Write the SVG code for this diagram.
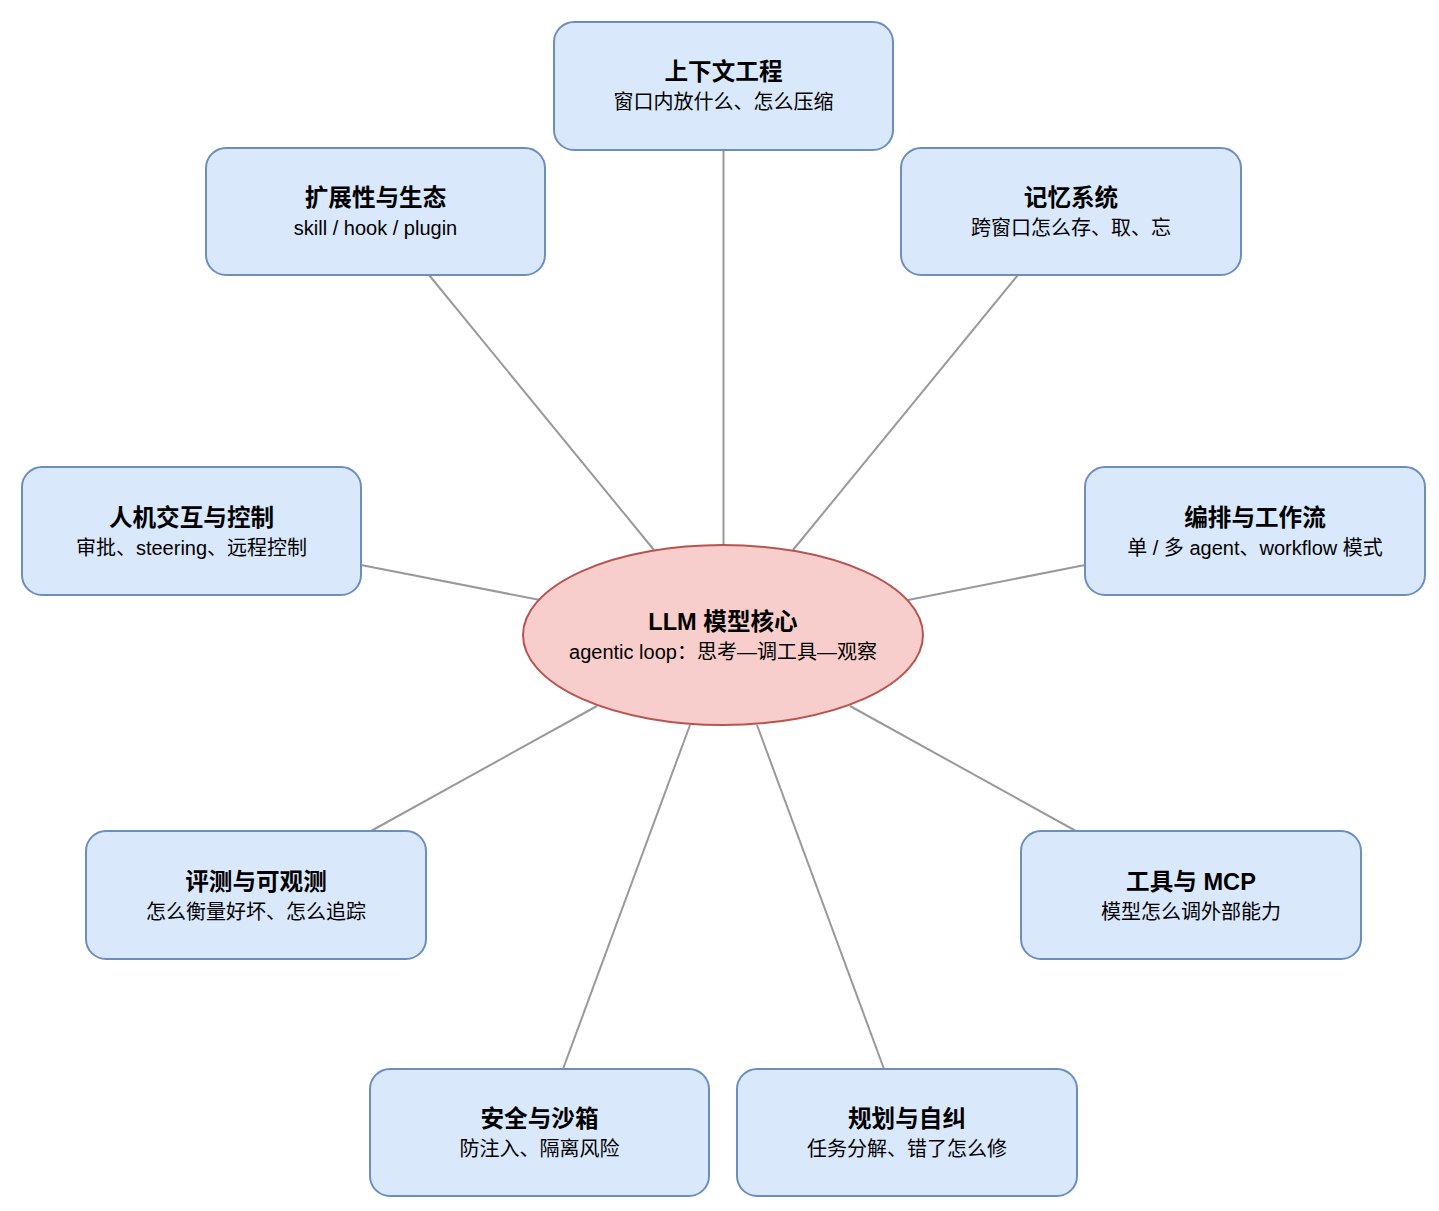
<svg xmlns="http://www.w3.org/2000/svg" width="1439" height="1211" viewBox="0 0 1439 1211">
<style>
.box{fill:#dae8fc;stroke:#6c8ebf;stroke-width:2}
.core{fill:#f8cecc;stroke:#b85450;stroke-width:2}
.edge{stroke:#999999;stroke-width:2;fill:none}
text{font-family:"Liberation Sans","Noto Sans CJK SC",sans-serif;text-anchor:middle;fill:#000}
.t{font-size:23.6px;font-weight:bold}
.s{font-size:20px}
</style>
<rect width="1439" height="1211" fill="#ffffff"/>
<g id="connectors">
<line class="edge" x1="723.5" y1="150" x2="723.5" y2="545"/>
<line class="edge" x1="429" y1="275" x2="654" y2="550"/>
<line class="edge" x1="1018" y1="275" x2="793" y2="550"/>
<line class="edge" x1="361" y1="565" x2="540" y2="600"/>
<line class="edge" x1="1085" y1="565" x2="908" y2="600"/>
<line class="edge" x1="371" y1="831" x2="597" y2="706"/>
<line class="edge" x1="1076" y1="831" x2="850" y2="706"/>
<line class="edge" x1="563" y1="1069" x2="690" y2="725"/>
<line class="edge" x1="884" y1="1069" x2="757" y2="725"/>
</g>
<g id="core">
<ellipse class="core" cx="723" cy="635" rx="200" ry="90"/>
<text class="t" x="723" y="630">LLM 模型核心</text>
<text class="s" x="723" y="659">agentic loop：思考—调工具—观察</text>
</g>
<g id="n-context">
<rect class="box" x="554" y="22" width="339" height="128" rx="20"/>
<text class="t" x="723.5" y="80">上下文工程</text>
<text class="s" x="723.5" y="109">窗口内放什么、怎么压缩</text>
</g>
<g id="n-ext">
<rect class="box" x="206" y="148" width="339" height="127" rx="20"/>
<text class="t" x="375.5" y="206">扩展性与生态</text>
<text class="s" x="375.5" y="235">skill / hook / plugin</text>
</g>
<g id="n-memory">
<rect class="box" x="901" y="148" width="340" height="127" rx="20"/>
<text class="t" x="1071" y="206">记忆系统</text>
<text class="s" x="1071" y="235">跨窗口怎么存、取、忘</text>
</g>
<g id="n-hci">
<rect class="box" x="22" y="467" width="339" height="128" rx="20"/>
<text class="t" x="191.5" y="526">人机交互与控制</text>
<text class="s" x="191.5" y="555">审批、steering、远程控制</text>
</g>
<g id="n-orch">
<rect class="box" x="1085" y="467" width="340" height="128" rx="20"/>
<text class="t" x="1255" y="526">编排与工作流</text>
<text class="s" x="1255" y="555">单 / 多 agent、workflow 模式</text>
</g>
<g id="n-eval">
<rect class="box" x="86" y="831" width="340" height="128" rx="20"/>
<text class="t" x="256" y="890">评测与可观测</text>
<text class="s" x="256" y="919">怎么衡量好坏、怎么追踪</text>
</g>
<g id="n-tools">
<rect class="box" x="1021" y="831" width="340" height="128" rx="20"/>
<text class="t" x="1191" y="890">工具与 MCP</text>
<text class="s" x="1191" y="919">模型怎么调外部能力</text>
</g>
<g id="n-safety">
<rect class="box" x="370" y="1069" width="339" height="127" rx="20"/>
<text class="t" x="539.5" y="1127">安全与沙箱</text>
<text class="s" x="539.5" y="1156">防注入、隔离风险</text>
</g>
<g id="n-plan">
<rect class="box" x="737" y="1069" width="340" height="127" rx="20"/>
<text class="t" x="907" y="1127">规划与自纠</text>
<text class="s" x="907" y="1156">任务分解、错了怎么修</text>
</g>
</svg>
